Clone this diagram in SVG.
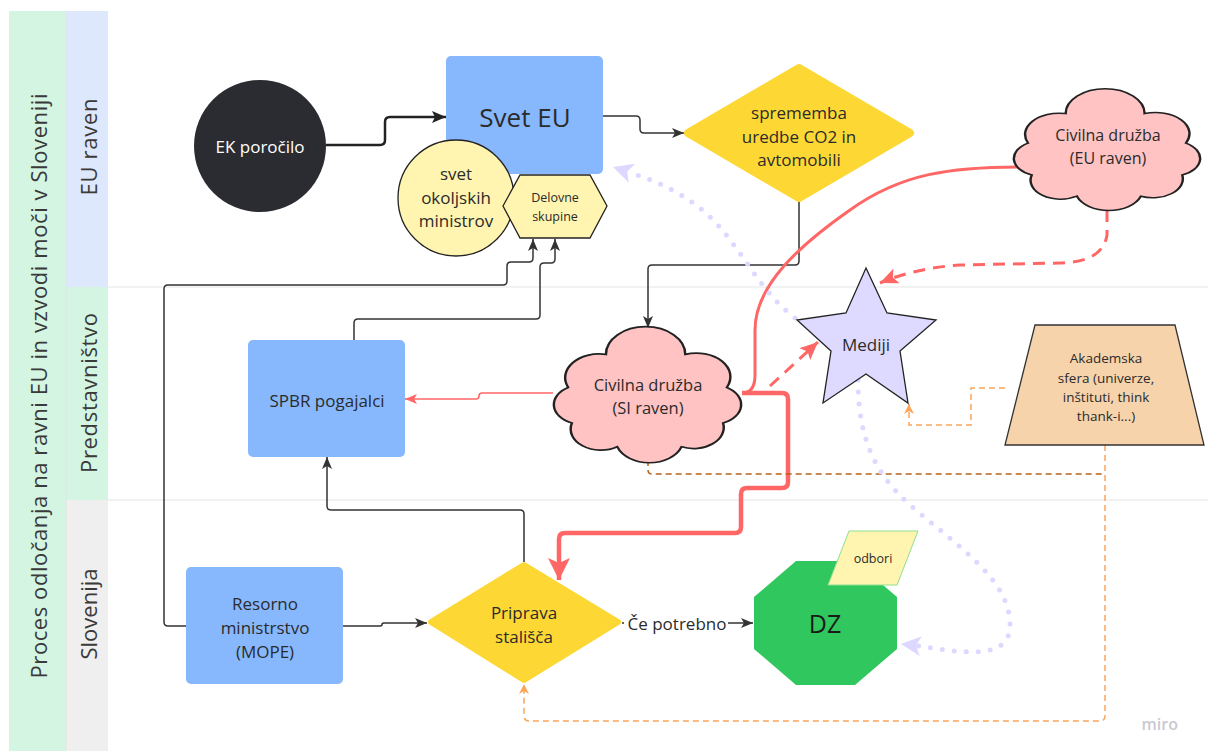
<svg xmlns="http://www.w3.org/2000/svg" width="1208" height="751" viewBox="0 0 1208 751">
<style>
.t{font-family:"Open Sans","Noto Sans","Liberation Sans",sans-serif;fill:#2b2b2b;text-anchor:middle;dominant-baseline:central}
.lane{font-family:"Open Sans","Noto Sans","Liberation Sans",sans-serif;fill:#3a3a3a;font-size:22px;text-anchor:middle;dominant-baseline:central}
.blue{fill:#87b8fe}
.dk{fill:none;stroke:#333;stroke-width:1.5}
.red{fill:none;stroke:#ff6666}
.or{fill:none;stroke:#fba55b;stroke-width:1.5;stroke-dasharray:6 4}
.br{fill:none;stroke:#b8631a;stroke-width:1.5;stroke-dasharray:6 4}
.lav{fill:none;stroke:#dcd8ff;stroke-width:5;stroke-linecap:round;stroke-dasharray:0 12}
.cloud{fill:#ffc3c3;stroke:#222;stroke-width:1.3}
</style>
<defs>
<marker id="aDk" markerUnits="userSpaceOnUse" viewBox="0 0 12 10" refX="12" refY="5" markerWidth="12" markerHeight="10" orient="auto"><path d="M0,0 L12,5 L0,10 L3,5 Z" fill="#333"/></marker>
<marker id="aBk" markerUnits="userSpaceOnUse" viewBox="0 0 14 12" refX="14" refY="6" markerWidth="14" markerHeight="12" orient="auto"><path d="M0,0 L14,6 L0,12 L3,6 Z" fill="#222"/></marker>
<marker id="aRed" markerUnits="userSpaceOnUse" viewBox="0 0 12 10" refX="12" refY="5" markerWidth="12" markerHeight="10" orient="auto"><path d="M0,0 L12,5 L0,10 L3,5 Z" fill="#ff6666"/></marker>
<marker id="aRedM" markerUnits="userSpaceOnUse" viewBox="0 0 18 16" refX="18" refY="8" markerWidth="18" markerHeight="16" orient="auto"><path d="M0,0 L18,8 L0,16 L4,8 Z" fill="#ff6666"/></marker>
<marker id="aRedB" markerUnits="userSpaceOnUse" viewBox="0 0 22 22" refX="22" refY="11" markerWidth="22" markerHeight="22" orient="auto"><path d="M0,0 L22,11 L0,22 L5,11 Z" fill="#ff6666"/></marker>
<marker id="aOr" markerUnits="userSpaceOnUse" viewBox="0 0 10 10" refX="10" refY="5" markerWidth="10" markerHeight="10" orient="auto"><path d="M0,0 L10,5 L0,10 L3,5 Z" fill="#fba55b"/></marker>
<marker id="aLav" markerUnits="userSpaceOnUse" viewBox="0 0 20 20" refX="20" refY="10" markerWidth="20" markerHeight="20" orient="auto"><path d="M0,0 L20,10 L0,20 L5,10 Z" fill="#dcd8ff"/></marker>
<path id="cloudShape" d="M 8 45 A 18 18 0 0 1 28 20 A 21 21 0 0 1 70 20 A 18 18 0 0 1 92 45 A 15 15 0 0 1 90 72 A 16 16 0 0 1 68 90 A 18 18 0 0 1 34 90 A 16 16 0 0 1 10 72 A 15 15 0 0 1 8 45 Z"/>
</defs>

<rect width="1208" height="751" fill="#ffffff"/>

<g id="lanes">
<rect x="9" y="11" width="57" height="740" fill="#d3f5e2"/>
<rect x="66" y="11" width="42" height="276" fill="#dde8fd"/>
<rect x="66" y="287" width="42" height="213" fill="#d3f5e2"/>
<rect x="66" y="500" width="42" height="251" fill="#efefef"/>
<line x1="66" y1="11" x2="66" y2="751" stroke="#e4e4e4" stroke-width="1"/>
<line x1="108" y1="287" x2="1208" y2="287" stroke="#e6e6e6" stroke-width="1.2"/>
<line x1="108" y1="500" x2="1208" y2="500" stroke="#e6e6e6" stroke-width="1.2"/>
<text class="lane" transform="translate(38,386) rotate(-90)" textLength="585">Proces odločanja na ravni EU in vzvodi moči v Sloveniji</text>
<text class="lane" transform="translate(88,147) rotate(-90)" textLength="97">EU raven</text>
<text class="lane" transform="translate(88,393) rotate(-90)" textLength="160">Predstavništvo</text>
<text class="lane" transform="translate(88,614) rotate(-90)">Slovenija</text>
</g>

<g id="connectors">
<path d="M326 145 L380 145 Q385 145 385 140 L385 122 Q385 117 390 117 L446 117" fill="none" stroke="#222" stroke-width="2.5" marker-end="url(#aBk)"/>
<path class="dk" d="M603 116 L636 116 Q640 116 640 120 L640 129 Q640 133 644 133 L684 133" marker-end="url(#aDk)"/>
<path class="dk" d="M799 202 L799 261 Q799 265 795 265 L652 265 Q648 265 648 269 L648 328" marker-end="url(#aDk)"/>
<path class="dk" d="M524 562 L524 514 Q524 510 520 510 L331 510 Q327 510 327 506 L327 457" marker-end="url(#aDk)"/>
<path class="dk" d="M354 340 L354 323 Q354 319 358 319 L536 319 Q540 319 540 315 L540 267 Q540 263 544 263 L551 263 Q555 263 555 259 L555 239" marker-end="url(#aDk)"/>
<path class="dk" d="M186 626 L168 626 Q164 626 164 622 L164 289 Q164 285 168 285 L503 285 Q507 285 507 281 L507 266 Q507 262 511 262 L529 262 Q533 262 533 258 L533 239" marker-end="url(#aDk)"/>
<path class="dk" d="M343 626 L380 626 Q382 626 382 624.5 Q382 623 384 623 L427 623" marker-end="url(#aDk)"/>
<path class="dk" d="M622 623 L753 623" marker-end="url(#aDk)"/>
<rect x="624" y="610" width="104" height="26" fill="#ffffff"/>
<text class="t" x="677" y="623" font-size="17">Če potrebno</text>

<path class="red" stroke-width="1.6" d="M553 393 L482 393 Q479 393 479 396 Q479 399 476 399 L405 399" marker-end="url(#aRed)"/>
<path class="red" stroke-width="3" d="M742 393 Q755 393 755 375 L755 330 C755 285 800 245 850 210 C900 174 950 166 1030 167"/>
<path class="red" stroke-width="4.5" d="M742 393 L782 393 Q788 393 788 399 L788 482 Q788 488 782 488 L747 488 Q741 488 741 494 L741 527 Q741 533 735 533 L565 533 Q559 533 559 539 L559 580" marker-end="url(#aRedB)"/>
<path class="red" stroke-width="3" stroke-dasharray="12 8" d="M1107 210 L1107 235 Q1103 262 1060 263 L960 265 Q915 268 880 283" marker-end="url(#aRedM)"/>
<path class="red" stroke-width="3" stroke-dasharray="12 8" d="M770 386 L818 342" marker-end="url(#aRedM)"/>

<path class="or" d="M1005 388 L971 388 L971 425 L909 425 L909 404" marker-end="url(#aOr)"/>
<path class="or" d="M1105 445 L1105 716 Q1105 721 1100 721 L529 721 Q524 721 524 716 L524 684" marker-end="url(#aOr)"/>
<path class="br" d="M648 460 L648 470 Q648 474 652 474 L1103 474"/>

<path class="lav" d="M795 318 C765 295 750 265 730 240 C705 205 670 185 628 172"/>
<path d="M640 176 L613 167" fill="none" stroke="none" marker-end="url(#aLav)"/>
<path class="lav" d="M858 380 C858 430 870 470 910 505 C960 548 1010 580 1010 625 C1010 662 960 652 918 646"/>
<path d="M920 646 L901 644" fill="none" stroke="none" marker-end="url(#aLav)"/>
</g>

<g id="ek">
<circle cx="260" cy="146" r="66" fill="#2b2c31"/>
<text class="t" x="260" y="146" font-size="17" style="fill:#ffffff">EK poročilo</text>
</g>

<g id="svet-eu">
<rect class="blue" x="446" y="56" width="157" height="118" rx="5"/>
<text class="t" x="525" y="117" font-size="26">Svet EU</text>
</g>

<g id="svet-okoljskih">
<circle cx="456" cy="198" r="58" fill="#fff4b0" stroke="#222" stroke-width="1.3"/>
<text class="t" font-size="17"><tspan x="456" y="173">svet</tspan><tspan x="456" y="197">okoljskih</tspan><tspan x="456" y="220">ministrov</tspan></text>
</g>

<g id="delovne">
<polygon points="503,206 520,175 590,175 607,206 590,238 520,238" fill="#fff4b0" stroke="#222" stroke-width="1.3"/>
<text class="t" font-size="12.5"><tspan x="555" y="197">Delovne</tspan><tspan x="555" y="216">skupine</tspan></text>
</g>

<g id="sprememba">
<polygon points="799,68 910,133 799,198 688,133" fill="#fdd835" stroke="#fdd835" stroke-width="8" stroke-linejoin="round"/>
<text class="t" font-size="17"><tspan x="799" y="112">sprememba</tspan><tspan x="799" y="136">uredbe CO2 in</tspan><tspan x="799" y="159">avtomobili</tspan></text>
</g>

<g id="civilna-eu">
<use href="#cloudShape" class="cloud" vector-effect="non-scaling-stroke" transform="translate(1013,90) scale(1.88,1.18)"/>
<text class="t" font-size="16"><tspan x="1108" y="135">Civilna družba</tspan><tspan x="1108" y="158">(EU raven)</tspan></text>
</g>

<g id="mediji">
<polygon points="866,268 887,313 936,320 900,351 908,403 866,374 823,403 831,351 797,320 846,313" fill="#dedaff" stroke="#222" stroke-width="1.3" stroke-linejoin="miter"/>
<text class="t" x="866" y="344" font-size="17">Mediji</text>
</g>

<g id="akademska">
<polygon points="1035,325 1175,325 1204,445 1005,445" fill="#f6d3ab" stroke="#333" stroke-width="1.3"/>
<text class="t" font-size="13.5"><tspan x="1106" y="358">Akademska</tspan><tspan x="1106" y="378">sfera (univerze,</tspan><tspan x="1106" y="397">inštituti, think</tspan><tspan x="1106" y="416">thank-i...)</tspan></text>
</g>

<g id="spbr">
<rect class="blue" x="248" y="340" width="157" height="117" rx="5"/>
<text class="t" x="327" y="400" font-size="17">SPBR pogajalci</text>
</g>

<g id="civilna-si">
<use href="#cloudShape" class="cloud" vector-effect="non-scaling-stroke" transform="translate(553,328) scale(1.89,1.32)"/>
<text class="t" font-size="16.5"><tspan x="648" y="384">Civilna družba</tspan><tspan x="648" y="407">(SI raven)</tspan></text>
</g>

<g id="resorno">
<rect class="blue" x="186" y="567" width="157" height="117" rx="5"/>
<text class="t" font-size="17"><tspan x="265" y="603">Resorno</tspan><tspan x="265" y="627">ministrstvo</tspan><tspan x="265" y="651">(MOPE)</tspan></text>
</g>

<g id="priprava">
<polygon points="524,565 618,622 524,680 431,622" fill="#fdd835" stroke="#fdd835" stroke-width="6" stroke-linejoin="round"/>
<text class="t" font-size="17"><tspan x="524" y="612">Priprava</tspan><tspan x="524" y="636">stališča</tspan></text>
</g>

<g id="dz">
<polygon points="796,561 855,561 897,597 897,649 855,685 796,685 754,649 754,597" fill="#2fc75e"/>
<text class="t" x="825" y="623" font-size="25" style="fill:#1a1a1a">DZ</text>
</g>

<g id="odbori">
<polygon points="849,531 918,531 897,585 828,585" fill="#fff5b1" stroke="#8ee08e" stroke-width="1"/>
<text class="t" x="873" y="558" font-size="12.5">odbori</text>
</g>

<text x="1178" y="724" font-family="Open Sans, Noto Sans, sans-serif" font-size="16" font-weight="600" fill="#c9c9d2" text-anchor="end" dominant-baseline="central">miro</text>
</svg>
